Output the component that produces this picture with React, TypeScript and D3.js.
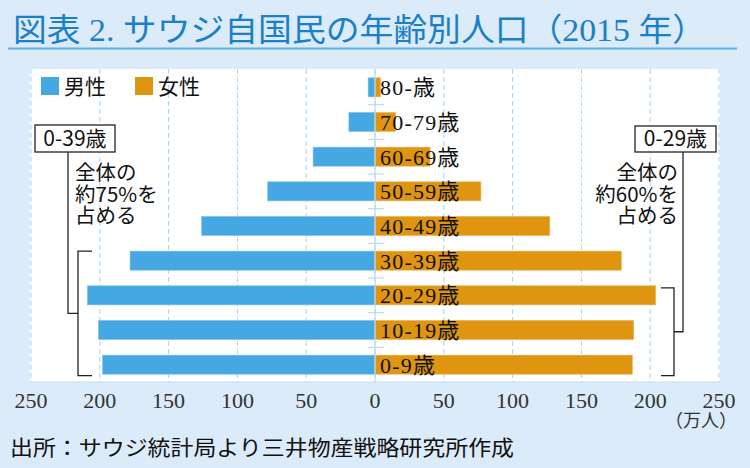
import React from "react";
import * as d3 from "d3";

const categories = ["80-歳", "70-79歳", "60-69歳", "50-59歳", "40-49歳", "30-39歳", "20-29歳", "10-19歳", "0-9歳"];
const maleValues = [5, 19, 45, 78, 126, 178, 209, 201, 198];
const femaleValues = [4, 15, 40, 77, 127, 179, 204, 188, 187];
const tickValues = [-250, -200, -150, -100, -50, 0, 50, 100, 150, 200, 250];
const title = "図表 2. サウジ自国民の年齢別人口（2015 年）";
const source = "出所：サウジ統計局より三井物産戦略研究所作成";
const legendItems = ["男性", "女性"];
const leftNoteLabel = "0-39歳";
const leftNoteLines = ["全体の", "約75%を", "占める"];
const rightNoteLabel = "0-29歳";
const rightNoteLines = ["全体の", "約60%を", "占める"];

const W = 750;
const H = 468;
const BG = "#dbebf9";
const BLUE = "#45a8e2";
const ORANGE = "#df9510";
const GRID = "#a9d2f2";
const SERIF = "'Liberation Serif', 'DejaVu Serif', 'Noto Sans CJK JP', serif";
const SANS = "'Noto Sans CJK JP', 'Noto Sans', sans-serif";

export default function App() {
  const plot = { left: 30, right: 720, top: 69, bottom: 382 };
  const x = d3.scaleLinear().domain([-250, 250]).range([31, 719]);
  const y = d3
    .scaleBand<string>()
    .domain(categories)
    .range([plot.top + 1, plot.bottom])
    .paddingInner(0.45)
    .paddingOuter(0.225);
  const bw = y.bandwidth();
  const step = y.step();
  const x0 = x(0);

  const lTop = y("30-39歳") as number;
  const lBot = (y("0-9歳") as number) + bw + 1.5;
  const lMid = (lTop + lBot) / 2;
  const rTop = (y("20-29歳") as number) + 2;
  const rBot = lBot;
  const rMid = (rTop + rBot) / 2;

  return (
    <svg
      width={W}
      height={H}
      style={{ position: "absolute", left: 0, top: 0, display: "block" }}
      xmlns="http://www.w3.org/2000/svg"
    >
      <rect x={0} y={0} width={W} height={H} fill={BG} />
      {/* title */}
      <text
        x={13}
        y={41}
        fontFamily={SERIF}
        fontSize={32}
        fill="#1a80c9"
        textLength={693}
        lengthAdjust="spacingAndGlyphs"
      >
        {title}
      </text>
      <line x1={8} x2={737} y1={48.5} y2={48.5} stroke="#5cb1e8" strokeWidth={2} />

      {/* plot area */}
      <rect x={plot.left} y={plot.top} width={plot.right - plot.left} height={plot.bottom - plot.top} fill="#ffffff" />
      {tickValues.map((t) => (
        <line
          key={"g" + t}
          x1={x(t)}
          x2={x(t)}
          y1={plot.top}
          y2={plot.bottom}
          stroke={GRID}
          strokeWidth={1}
          strokeDasharray="5,3"
        />
      ))}
      <line x1={plot.left} x2={plot.right} y1={plot.bottom} y2={plot.bottom} stroke="#c4e0f5" strokeWidth={1} />

      {/* bars */}
      {categories.map((c, i) => (
        <g key={c}>
          <rect
            x={x(-maleValues[i])}
            y={y(c)}
            width={x0 - x(-maleValues[i])}
            height={bw}
            fill={BLUE}
            stroke="#7cc2ec"
            strokeWidth={0.6}
          />
          <rect
            x={x0}
            y={y(c)}
            width={x(femaleValues[i]) - x0}
            height={bw}
            fill={ORANGE}
            stroke="#eab55a"
            strokeWidth={0.6}
          />
        </g>
      ))}

      {/* center axis */}
      <line x1={x0} x2={x0} y1={plot.top} y2={plot.bottom} stroke="#b9dbf4" strokeWidth={1.2} />
      {categories.slice(1).map((c, i) => {
        const yy = plot.top + 1 + step * (i + 1);
        return <line key={"t" + c} x1={x0 - 7} x2={x0 + 9} y1={yy} y2={yy} stroke="#b9dbf4" strokeWidth={1.2} />;
      })}

      {/* category labels */}
      {categories.map((c) => (
        <text
          key={"l" + c}
          x={x0 + 5}
          y={(y(c) as number) + bw / 2}
          dy="0.36em"
          fontFamily={SERIF}
          fontSize={22}
          letterSpacing={1.2}
          fill="#111"
        >
          {c}
        </text>
      ))}

      {/* legend */}
      {legendItems.map((name, i) => (
        <g key={name} transform={`translate(${41 + i * 94},77)`}>
          <rect x={0} y={0} width={18} height={18} fill={i === 0 ? BLUE : ORANGE} />
          <text x={23} y={9} dy="0.36em" fontFamily={SANS} fontSize={21} fill="#111">
            {name}
          </text>
        </g>
      ))}

      {/* tick labels */}
      {tickValues.map((t) => (
        <text
          key={"tl" + t}
          x={x(t)}
          y={408}
          textAnchor="middle"
          fontFamily={SERIF}
          fontSize={22}
          fill="#333"
        >
          {Math.abs(t)}
        </text>
      ))}
      <text x={737} y={427} textAnchor="end" fontFamily={SERIF} fontSize={18} fill="#333">
        （万人）
      </text>

      {/* left annotation */}
      <rect x={35} y={125} width={80} height={27} fill="#fff" stroke="#222" strokeWidth={1.3} />
      <text x={75} y={146} textAnchor="middle" fontFamily={SANS} fontSize={21} fill="#111">
        {leftNoteLabel}
      </text>
      <polyline points={`68,152 68,${lMid} 78,${lMid}`} fill="none" stroke="#222" strokeWidth={1.3} />
      <polyline points={`92,${lTop} 78,${lTop} 78,${lBot} 92,${lBot}`} fill="none" stroke="#222" strokeWidth={1.3} />
      <text x={75} y={180} fontFamily={SANS} fontSize={20.5} fill="#111">
        {leftNoteLines.map((s, i) => (
          <tspan key={"ln" + i} x={75} y={180 + i * 21.5}>
            {s}
          </tspan>
        ))}
      </text>

      {/* right annotation */}
      <rect x={635} y={126} width={81} height={26} fill="#fff" stroke="#222" strokeWidth={1.3} />
      <text x={675.5} y={146} textAnchor="middle" fontFamily={SANS} fontSize={21} fill="#111">
        {rightNoteLabel}
      </text>
      <polyline points={`683,152 683,${rMid} 674,${rMid}`} fill="none" stroke="#222" strokeWidth={1.3} />
      <polyline points={`661,${rTop} 674,${rTop} 674,${rBot} 661,${rBot}`} fill="none" stroke="#222" strokeWidth={1.3} />
      <text x={678} y={180} textAnchor="end" fontFamily={SANS} fontSize={20.5} fill="#111">
        {rightNoteLines.map((s, i) => (
          <tspan key={"rn" + i} x={678} y={180 + i * 21.5}>
            {s}
          </tspan>
        ))}
      </text>

      {/* source */}
      <text
        x={10}
        y={455}
        fontFamily={SANS}
        fontSize={21}
        fill="#111"
        textLength={504}
        lengthAdjust="spacingAndGlyphs"
      >
        {source}
      </text>
    </svg>
  );
}
